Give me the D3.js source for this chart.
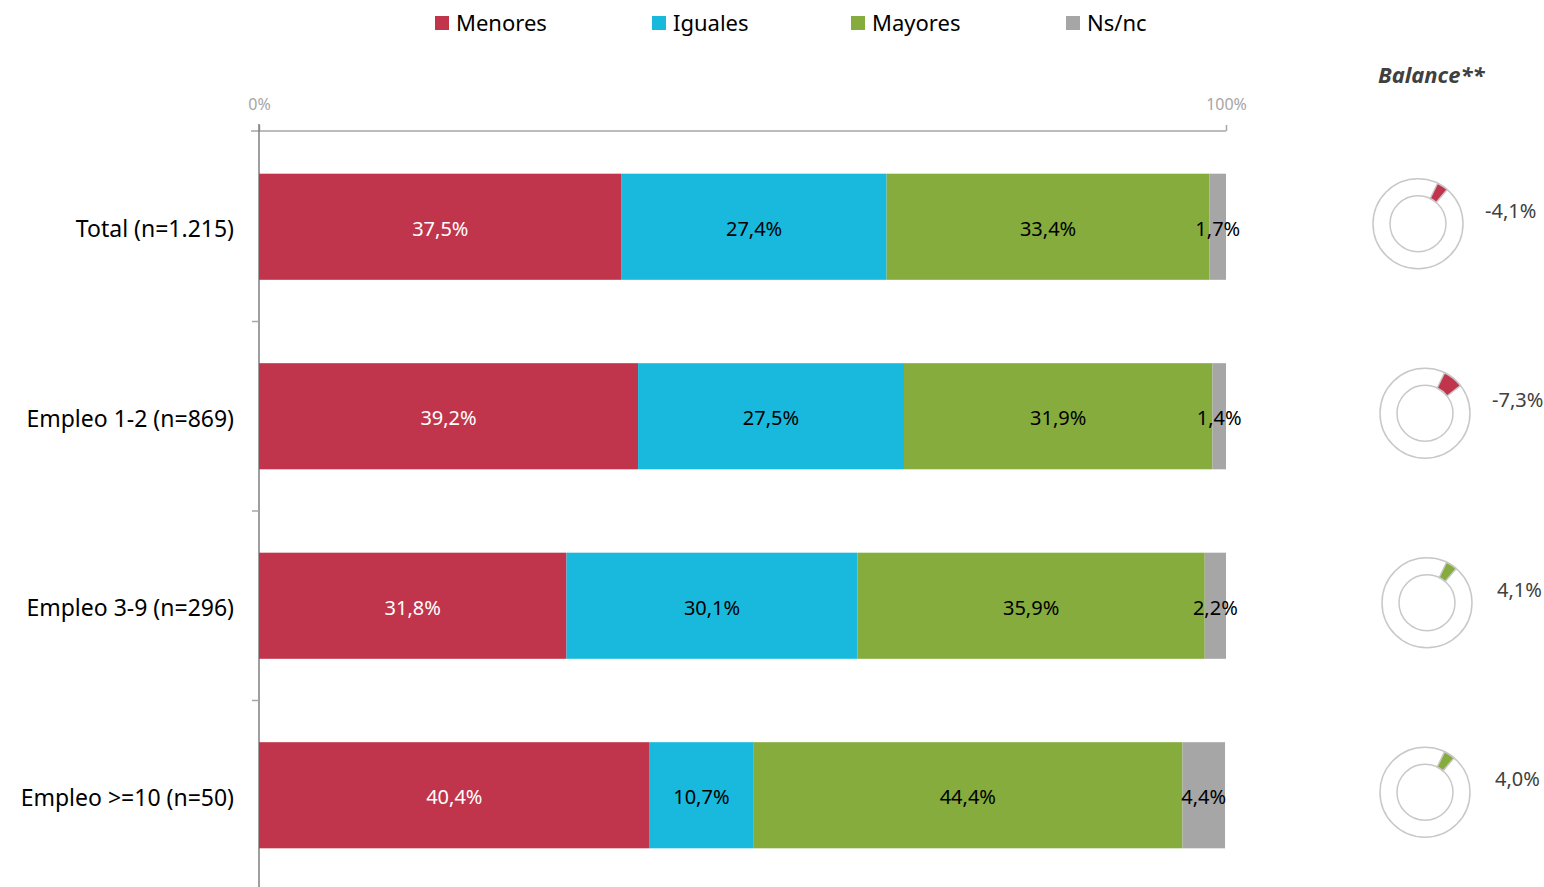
<!DOCTYPE html>
<html>
<head>
<meta charset="utf-8">
<script src="https://cdn.jsdelivr.net/npm/d3@7"></script>
<style>
  body { margin: 0; background: #fff; }
  svg { display: block; font-family: "Noto Sans", "Open Sans", sans-serif; }
</style>
</head>
<body>
<div id="chart"></div>
<script>
// ------------------------------------------------------
// Data
const categories = ['Total (n=1.215)', 'Empleo 1-2 (n=869)', 'Empleo 3-9 (n=296)', 'Empleo >=10 (n=50)']
const seriesNames = ['Menores', 'Iguales', 'Mayores', 'Ns/nc']
const menores = [37.5, 39.2, 31.8, 40.4]
const iguales = [27.4, 27.5, 30.1, 10.7]
const mayores = [33.4, 31.9, 35.9, 44.4]
const nsnc = [1.7, 1.4, 2.2, 4.4]
const balance = [-4.1, -7.3, 4.1, 4.0]
const tickLabels = ['0%', '100%']

const colors = ['#c0354b', '#19b9de', '#86ac3d', '#a6a6a6']
const labelColors = ['#fff', '#000', '#000', '#000']

const width = 1544
const height = 887

const fmt = v => v.toFixed(1).replace('.', ',') + '%'

// ------------------------------------------------------
// Svg
const svg = d3.select('#chart')
  .append('svg')
  .attr('width', width)
  .attr('height', height)

const x = d3.scaleLinear()
  .domain([0, 100])
  .range([259, 1226])

const y = d3.scaleBand()
  .domain(categories)
  .range([132, 890])
  .paddingInner(0.44)
  .paddingOuter(0.22)

// stack the series
const rows = categories.map((c, i) => ({
  cat: c,
  Menores: menores[i],
  Iguales: iguales[i],
  Mayores: mayores[i],
  'Ns/nc': nsnc[i]
}))
const stacked = d3.stack().keys(seriesNames)(rows)

// ------------------------------------------------------
// Axes
const xAxis = svg.append('g')
  .attr('transform', 'translate(0,131)')
  .call(d3.axisTop(x).tickValues([0, 100]).tickSize(6).tickSizeOuter(0)
    .tickFormat((d, i) => tickLabels[i]))
xAxis.select('.domain').remove()
xAxis.selectAll('.tick line').attr('stroke', '#a6a6a6').attr('stroke-width', 1.5)
xAxis.selectAll('.tick text')
  .attr('fill', '#a6a6a6')
  .attr('font-size', 16)
  .attr('dy', -12)
  .style('font-family', '"Noto Sans", sans-serif')
svg.append('line')
  .attr('x1', 251).attr('x2', x(100))
  .attr('y1', 131).attr('y2', 131)
  .attr('stroke', '#a6a6a6').attr('stroke-width', 1.5)

const yAxis = svg.append('g')
  .attr('transform', 'translate(259,0)')
  .call(d3.axisLeft(y).tickSize(0).tickPadding(25))
yAxis.select('.domain').remove()
yAxis.selectAll('.tick text')
  .attr('fill', '#000')
  .attr('font-size', 23)
  .attr('dy', '0.45em')
  .style('font-family', '"Noto Sans", sans-serif')

// vertical axis line and separators between categories
svg.append('line')
  .attr('x1', 259).attr('x2', 259)
  .attr('y1', 124).attr('y2', height)
  .attr('stroke', '#7f7f7f').attr('stroke-width', 1.5)
const step = y.step()
svg.selectAll('.sep')
  .data(categories.slice(1))
  .enter()
  .append('line')
  .attr('x1', 252).attr('x2', 259)
  .attr('y1', d => y(d) - y.paddingInner() * step / 2)
  .attr('y2', d => y(d) - y.paddingInner() * step / 2)
  .attr('stroke', '#a6a6a6').attr('stroke-width', 1.5)

// ------------------------------------------------------
// Bars
const layers = svg.selectAll('.layer')
  .data(stacked)
  .enter()
  .append('g')
  .attr('class', 'layer')

layers.selectAll('rect')
  .data(d => d)
  .enter()
  .append('rect')
  .attr('x', d => x(d[0]))
  .attr('y', d => y(d.data.cat))
  .attr('width', d => x(d[1]) - x(d[0]))
  .attr('height', y.bandwidth())
  .attr('fill', function () { return colors[d3.select(this.parentNode).datum().index] })

layers.selectAll('text')
  .data(d => d.map(p => ({ p, idx: d.index, key: d.key })))
  .enter()
  .append('text')
  .attr('x', d => (x(d.p[0]) + x(d.p[1])) / 2)
  .attr('y', d => y(d.p.data.cat) + y.bandwidth() / 2 + 2)
  .attr('dy', '0.35em')
  .attr('text-anchor', 'middle')
  .attr('font-size', 20)
  .attr('fill', d => labelColors[d.idx])
  .text(d => fmt(d.p.data[d.key]))

// ------------------------------------------------------
// Legend
const legendX = [435, 652, 851, 1066]
const legend = svg.selectAll('.legend')
  .data(seriesNames)
  .enter()
  .append('g')
  .attr('transform', (d, i) => `translate(${legendX[i]}, 16)`)
legend.append('rect')
  .attr('width', 14).attr('height', 14)
  .attr('fill', (d, i) => colors[i])
legend.append('text')
  .attr('x', 21).attr('y', 7)
  .attr('dy', '0.35em')
  .attr('font-size', 22)
  .attr('fill', '#000')
  .text(d => d)

// ------------------------------------------------------
// Balance donuts
svg.append('text')
  .attr('x', 1378).attr('y', 83)
  .attr('font-size', 22)
  .attr('font-weight', 'bold')
  .attr('font-style', 'italic')
  .attr('fill', '#404040')
  .text('Balance**')

const donutX = [1418, 1425, 1427, 1425]
const outerR = 45
const innerR = 28
const startA = 0.45
const ring = d3.arc().innerRadius(innerR).outerRadius(outerR)

const donuts = svg.selectAll('.donut')
  .data(balance)
  .enter()
  .append('g')
  .attr('transform', (d, i) => `translate(${donutX[i]}, ${y(categories[i]) + y.bandwidth() / 2 - 3})`)

donuts.append('path')
  .attr('d', ring({ startAngle: 0, endAngle: 2 * Math.PI }))
  .attr('fill', '#fff')
  .attr('stroke', '#c8c8c8')
  .attr('stroke-width', 1.5)

donuts.append('path')
  .attr('d', d => ring({ startAngle: startA, endAngle: startA + Math.abs(d) / 100 * 2 * Math.PI }))
  .attr('fill', d => d < 0 ? colors[0] : colors[2])
  .attr('stroke', '#c8c8c8')
  .attr('stroke-width', 1.5)

donuts.append('text')
  .attr('x', (d, i) => [67, 67, 70, 70][i])
  .attr('y', -13)
  .attr('dy', '0.35em')
  .attr('font-size', 20)
  .attr('fill', '#404040')
  .text(d => fmt(d))
</script>
</body>
</html>
